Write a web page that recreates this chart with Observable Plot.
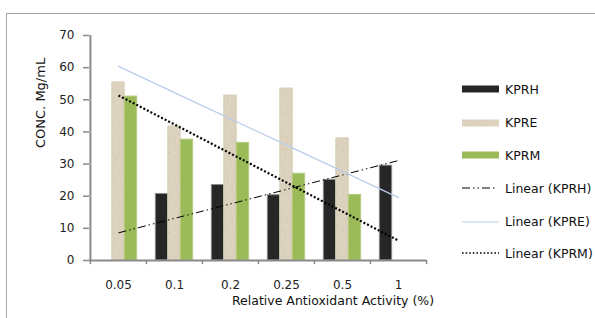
<!DOCTYPE html>
<html><head><meta charset="utf-8">
<script src="https://cdn.jsdelivr.net/npm/d3@7"></script>
<script src="https://cdn.jsdelivr.net/npm/@observablehq/plot@0.6"></script>
<style>
body{margin:0;background:#fff;}
#wrap{position:relative;width:595px;height:318px;overflow:hidden;font-family:"DejaVu Sans",sans-serif;}
#border{position:absolute;left:6px;top:13px;right:-10px;bottom:-10px;border-left:1.5px solid #a6a6a6;border-top:1.5px solid #a6a6a6;}
#chart{position:absolute;left:0;top:0;}
#legend{position:absolute;left:462px;top:0;}
.item{position:absolute;left:0;height:20px;display:flex;align-items:center;white-space:nowrap;font-size:12.5px;color:#111;}
.item svg{margin-right:6px;}
</style></head>
<body>
<svg width="0" height="0" style="position:absolute">
  <defs>
    <filter id="noise" x="0" y="0" width="100%" height="100%">
      <feTurbulence type="fractalNoise" baseFrequency="0.9 0.25" numOctaves="2" seed="4"/>
      <feColorMatrix type="matrix" values="0 0 0 0 0.55  0 0 0 0 0.48  0 0 0 0 0.37  1.6 0 0 0 -0.6"/>
    </filter>
    <pattern id="tex" patternUnits="userSpaceOnUse" width="80" height="80">
      <rect width="80" height="80" fill="#ded4c0"/>
      <rect width="80" height="80" filter="url(#noise)" opacity="0.45"/>
    </pattern>
  </defs>
</svg>
<div id="wrap"><div id="border"></div><div id="chart"></div><div id="legend"></div></div>
<script>
const categories = ["0.05", "0.1", "0.2", "0.25", "0.5", "1"];
const kprh = [0, 20.7, 23.5, 20.3, 25.1, 29.5];
const kpre = [55.4, 41.7, 51.3, 53.5, 38.0, 0];
const kprm = [51.0, 37.6, 36.6, 27.0, 20.4, 0];
const seriesNames = ["KPRH", "KPRE", "KPRM"];
const trendNames = ["Linear (KPRH)", "Linear (KPRE)", "Linear (KPRM)"];
const yTicks = [0, 10, 20, 30, 40, 50, 60, 70];
const xTitle = "Relative Antioxidant Activity (%)";
const yTitle = "CONC. Mg/mL";

const W = 595, H = 318, ML = 89, MR = 169, MT = 35, MB = 58;
const bw = (W - ML - MR) / categories.length;
const barW = 12.5;
const gap = (bw - 3 * barW) / 2;
const FONT = "'DejaVu Sans', sans-serif";

const seriesValues = [kprh, kpre, kprm];
const fills = ["#262626", "#dcd2bd", "#9bbb59"];
const strokes = ["#8c8c8c", "#d6ccb6", "#b3cc80"];

function rows(vals) { return categories.map((c, i) => ({cat: c, value: vals[i]})); }
// Excel-style linear trendline over category index 1..n
function trend(vals) {
  const xs = vals.map((_, i) => i + 1);
  const mx = d3.mean(xs), my = d3.mean(vals);
  const slope = d3.sum(xs, (x, i) => (x - mx) * (vals[i] - my)) / d3.sum(xs, x => (x - mx) ** 2);
  return categories.map((c, i) => ({cat: c, value: my + slope * (xs[i] - mx)}));
}

const barMarks = seriesValues.map((vals, k) =>
  Plot.barY(rows(vals).filter(d => d.value > 0), {
    x: "cat", y: "value", fill: fills[k], stroke: strokes[k], strokeWidth: 1,
    insetLeft: gap + k * barW, insetRight: gap + (2 - k) * barW
  })
);

const plot = Plot.plot({
  width: W, height: H, marginLeft: ML, marginRight: MR, marginTop: MT, marginBottom: MB,
  style: {fontFamily: FONT, fontSize: "12px", color: "#222", background: "transparent"},
  x: {type: "band", domain: categories, padding: 0},
  y: {domain: [0, 70]},
  marks: [
    ...barMarks,
    Plot.axisY({ticks: yTicks, tickSize: 6, tickPadding: 9, fontSize: 12, stroke: "#8a8a8a", strokeWidth: 1.5, fill: "#222", label: null, tickFormat: d => d}),
    Plot.axisX({tickSize: 0, tickPadding: 20, fontSize: 12, fill: "#222", label: null}),
    Plot.ruleY([0], {stroke: "#8a8a8a", strokeWidth: 2}),
    Plot.ruleX([categories[0]], {x: d => d, y1: 0, y2: 70, dx: -bw / 2, stroke: "#8a8a8a", strokeWidth: 2}),
    Plot.ruleX(categories, {x: d => d, y1: 0, y2: -1.3, dx: -bw / 2, stroke: "#8a8a8a", strokeWidth: 1.5}),
    Plot.ruleX([categories[categories.length - 1]], {x: d => d, y1: 0, y2: -1.3, dx: bw / 2, stroke: "#8a8a8a", strokeWidth: 1.5}),
    Plot.line(trend(kprh), {x: "cat", y: "value", stroke: "#000", strokeWidth: 1, strokeDasharray: "8,3,1.5,3,1.5,3", strokeLinecap: "butt"}),
    Plot.line(trend(kpre), {x: "cat", y: "value", stroke: "#b9cdea", strokeWidth: 1.2}),
    Plot.line(trend(kprm), {x: "cat", y: "value", stroke: "#000", strokeWidth: 2.2, strokeDasharray: "2,2", strokeLinecap: "butt"}),
    Plot.text([yTitle], {text: d => d, frameAnchor: "left", rotate: -90, dx: -49, fontSize: 13, fill: "#111"}),
    Plot.text([xTitle], {text: d => d, frameAnchor: "bottom", dx: 75, dy: 44, fontSize: 12.5, fill: "#111"})
  ]
});
// textured fill for KPRE bars
d3.select(plot).selectAll('g[aria-label="bar"]').filter((d, i) => i === 1).attr("fill", "url(#tex)");
document.getElementById("chart").appendChild(plot);

// legend
const legend = document.getElementById("legend");
const legY = [89, 122.7, 155, 188.3, 221.7, 253];
const swatches = [
  `<rect x="0" y="6.5" width="37" height="7" fill="${fills[0]}"/>`,
  `<rect x="0" y="6.5" width="37" height="7" fill="url(#tex)"/>`,
  `<rect x="0" y="6.5" width="37" height="7" fill="${fills[2]}"/>`,
  `<line x1="0" x2="34" y1="10" y2="10" stroke="#000" stroke-width="1" stroke-dasharray="8,3,1.5,3,1.5,3"/>`,
  `<line x1="0" x2="37" y1="10" y2="10" stroke="#b9cdea" stroke-width="1.2"/>`,
  `<line x1="0" x2="37" y1="10" y2="10" stroke="#000" stroke-width="1.6" stroke-dasharray="1.6,2"/>`
];
[...seriesNames, ...trendNames].forEach((name, i) => {
  const div = document.createElement("div");
  div.className = "item";
  div.style.top = (legY[i] - 10) + "px";
  div.innerHTML = `<svg width="37" height="20">${swatches[i]}</svg><span>${name}</span>`;
  legend.appendChild(div);
});
</script>
</body></html>
